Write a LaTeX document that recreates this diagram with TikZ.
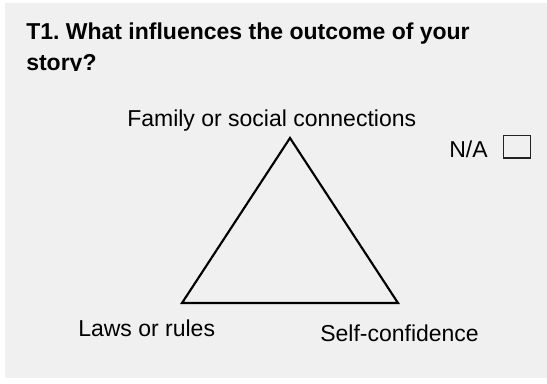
\documentclass[tikz,border=0pt]{standalone}
\usepackage{fontspec}
\setmainfont{Liberation Sans}
\usetikzlibrary{positioning}
\frenchspacing

\definecolor{panelgray}{HTML}{F0F0F0}
\definecolor{boxline}{HTML}{222222}

\tikzset{
  label/.style={inner sep=0pt, anchor=base west, font=\fontsize{17.25}{23}\selectfont},
  heading/.style={label, font=\fontsize{17.25}{23}\selectfont\bfseries},
}

\begin{document}
\begin{tikzpicture}[x=0.75pt, y=-0.75pt]
      \useasboundingbox (0,0) rectangle (547,383);

      % Panel
      \fill[panelgray] (5,3) rectangle (547,378);

      % Question (last line is cut at the baseline)
      \begin{scope}
        \clip (5,3) rectangle (547,70.5);
        \node[heading] (title) at (26,39) {T1. What influences the outcome of your};
        \node[heading] (title2) at (26,70) {story?};
      \end{scope}

      % Triangle
      \coordinate (top) at (290,138);
      \coordinate (left) at (182,303);
      \coordinate (right) at (398,303);
      \draw[line width=1.6pt, line join=miter] (top) -- (right) -- (left) -- cycle;

      % Corner labels
      \node[label] (family) at (127,126) {Family or social connections};
      \node[label] (laws) at (78,336) {Laws or rules};
      \node[label] (selfconf) at (320,341) {Self-confidence};

      % N/A tick box
      \node[label] (na) at (449,157) {N/A};
      \draw[boxline, line width=1.1pt] (503.5,135.5) rectangle (530.5,158);
\end{tikzpicture}
\end{document}
